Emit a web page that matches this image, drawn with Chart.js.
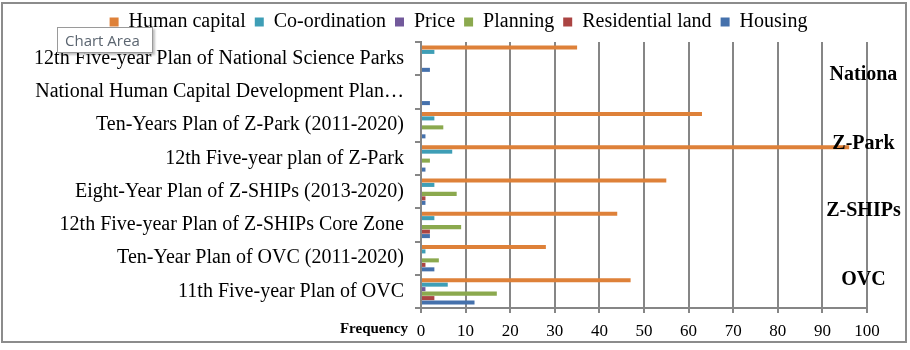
<!DOCTYPE html>
<html lang="en">
<head>
  <meta charset="UTF-8" />
  <title>Frequency of policy themes by plan</title>
  <script src="https://cdn.jsdelivr.net/npm/chart.js"></script>
  <style>
    body { margin: 0; background: #fff; }
    #wrap { position: relative; width: 910px; height: 350px; }
    #frame { position: absolute; left: 1px; top: 2px; width: 906px; height: 341px; box-sizing: border-box;
             border: 2px solid #8c8c8c; pointer-events: none; }
    #tip { position: absolute; left: 57px; top: 27px; width: 96px; height: 26px; box-sizing: border-box;
           border: 1px solid #9a9a9a; background: #fff; box-shadow: 2px 2px 2px rgba(0,0,0,0.25);
           font: 15px "Open Sans", sans-serif; color: #5b6570; line-height: 24px; padding-left: 7px; }
  </style>
</head>
<body>
  <div id="wrap">
    <canvas id="chart" width="910" height="350"></canvas>
    <div id="frame"></div>
    <div id="tip">Chart Area</div>
  </div>

  <script>
    // plans, listed top to bottom
    const categories = [
      "12th Five-year Plan of National Science Parks",
      "National Human Capital Development Plan…",
      "Ten-Years Plan of Z-Park (2011-2020)",
      "12th Five-year plan of Z-Park",
      "Eight-Year Plan of Z-SHIPs (2013-2020)",
      "12th Five-year Plan of Z-SHIPs Core Zone",
      "Ten-Year Plan of OVC (2011-2020)",
      "11th Five-year Plan of OVC"
    ];

    const humanCapital    = [35, 0, 63, 96, 55, 44, 28, 47];
    const coordination    = [3, 0, 3, 7, 3, 3, 1, 6];
    const price           = [0, 0, 0, 0, 0, 0, 0, 1];
    const planning        = [0, 0, 5, 2, 8, 9, 4, 17];
    const residentialLand = [0, 0, 0, 0, 1, 2, 1, 3];
    const housing         = [2, 2, 1, 1, 1, 2, 3, 12];

    const xTicks = [0, 10, 20, 30, 40, 50, 60, 70, 80, 90, 100];
    const groupLabels = ["Nationa", "Z-Park", "Z-SHIPs", "OVC"];
    const axisTitle = "Frequency";

    const serif = "'Liberation Serif', 'Times New Roman', serif";
    const gridGray = '#868686';

    // where the group labels sit, in category units
    const groupSpots = [0.5, 2.55, 4.57, 6.65];

    const extraText = {
      id: 'extraText',
      afterLayout(chart) {
        // legend in the original is centred a bit right of the plot's middle
        chart.legend.left += 50;
      },
      afterDraw(chart) {
        const { ctx, scales: { x, y } } = chart;
        ctx.save();
        ctx.fillStyle = '#000';
        ctx.font = 'bold 20px ' + serif;
        ctx.textAlign = 'center';
        ctx.textBaseline = 'middle';
        groupLabels.forEach((t, i) => {
          ctx.fillText(t, x.getPixelForValue(99.2), y.getPixelForValue(groupSpots[i]));
        });
        ctx.font = 'bold 15px ' + serif;
        ctx.textAlign = 'right';
        ctx.fillText(axisTitle, x.left - 13, y.bottom + 21);
        ctx.restore();
      }
    };

    const ds = (label, data, color) => ({
      label, data,
      backgroundColor: color,
      borderWidth: 0,
      categoryPercentage: 0.81,
      barPercentage: 0.9
    });

    new Chart(document.getElementById('chart'), {
      type: 'bar',
      data: {
        labels: categories,
        datasets: [
          ds('Human capital', humanCapital, '#de8139'),
          ds('Co-ordination', coordination, '#3e9eb6'),
          ds('Price', price, '#72599b'),
          ds('Planning', planning, '#8ba94e'),
          ds('Residential land', residentialLand, '#ab4442'),
          ds('Housing', housing, '#4571ac')
        ]
      },
      options: {
        indexAxis: 'y',
        responsive: false,
        animation: false,
        layout: { padding: { top: 3, right: 43, bottom: 0, left: 0 } },
        plugins: {
          tooltip: { enabled: false },
          legend: {
            position: 'top',
            labels: {
              boxWidth: 9,
              boxHeight: 9,
              padding: 9,
              color: '#000',
              font: { family: serif, size: 20 }
            }
          }
        },
        scales: {
          x: {
            min: 0,
            max: 100,
            afterBuildTicks(scale) { scale.ticks = xTicks.map(v => ({ value: v })); },
            afterFit(scale) { scale.height = 42; },
            grid: { color: gridGray, lineWidth: 2, tickLength: 5 },
            border: { color: gridGray, width: 2 },
            ticks: { color: '#000', padding: 8, font: { family: serif, size: 17 } }
          },
          y: {
            afterFit(scale) { scale.width = 421; },
            grid: { drawOnChartArea: false, color: gridGray, lineWidth: 2, tickLength: 6, offset: true },
            border: { color: gridGray, width: 2 },
            ticks: { color: '#000', padding: 11, font: { family: serif, size: 20 } }
          }
        }
      },
      plugins: [extraText]
    });
  </script>
</body>
</html>
